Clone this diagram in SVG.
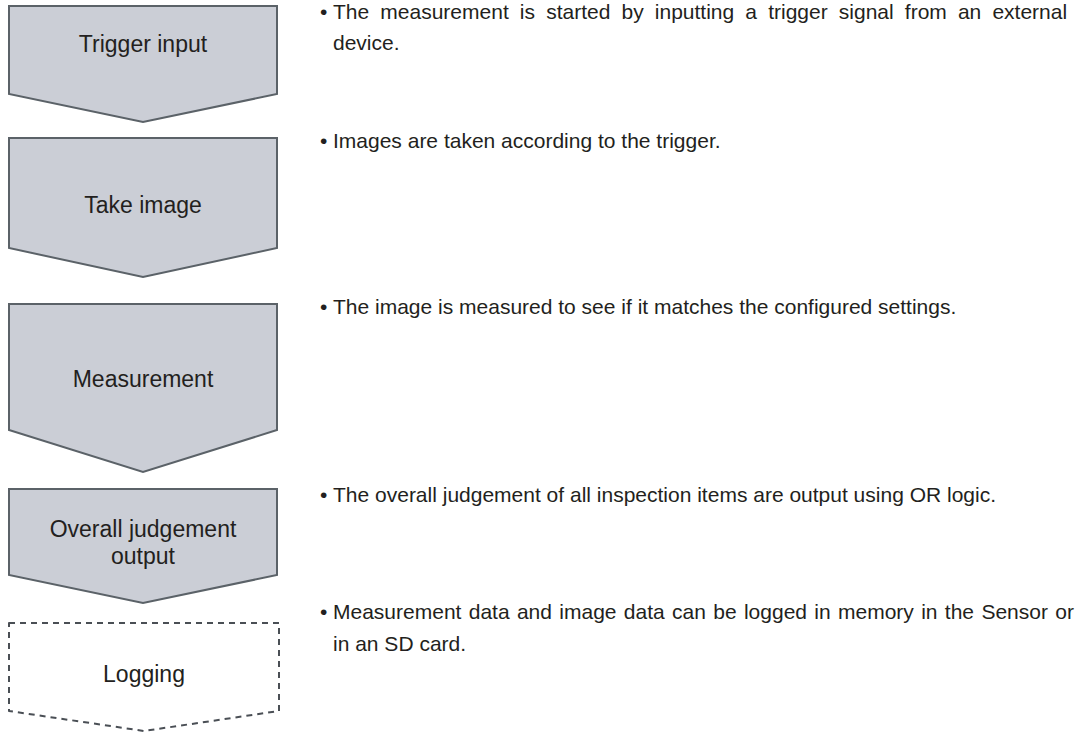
<svg xmlns="http://www.w3.org/2000/svg" width="1081" height="741" viewBox="0 0 1081 741">
<style>
.step{fill:#cbced6;stroke:#5b6268;stroke-width:2;stroke-linejoin:miter}
.opt{fill:#ffffff;stroke:#4a4f55;stroke-width:2;stroke-dasharray:6 5;stroke-linejoin:round}
.lbl{font-family:"Liberation Sans",Arial,sans-serif;font-size:23px;fill:#231f20;text-anchor:middle}
.desc{font-family:"Liberation Sans",Arial,sans-serif;font-size:21px;fill:#231f20}
</style>
<rect width="1081" height="741" fill="#ffffff"/>
<g id="connectors"></g>
<g id="n1">
<path class="step" d="M9,6 H277 V94 L143,122 L9,94 Z"/>
<text class="lbl" x="143" y="52">Trigger input</text>
</g>
<g id="n2">
<path class="step" d="M9,138 H277 V248 L143,277 L9,248 Z"/>
<text class="lbl" x="143" y="213">Take image</text>
</g>
<g id="n3">
<path class="step" d="M9,304 H277 V430 L143,472 L9,430 Z"/>
<text class="lbl" x="143" y="387">Measurement</text>
</g>
<g id="n4">
<path class="step" d="M9,489 H277 V575 L143,603 L9,575 Z"/>
<text class="lbl" x="143" y="537">Overall judgement</text>
<text class="lbl" x="143" y="564">output</text>
</g>
<g id="n5">
<path class="opt" d="M9,623 H279 V711 L144,731 L9,711 Z"/>
<text class="lbl" x="144" y="682">Logging</text>
</g>
<g id="notes">
<text class="desc" x="320" y="19">•</text>
<text class="desc" x="333" y="19" word-spacing="5.3">The measurement is started by inputting a trigger signal from an external</text>
<text class="desc" x="333" y="50">device.</text>
<text class="desc" x="320" y="148">•</text>
<text class="desc" x="333" y="148">Images are taken according to the trigger.</text>
<text class="desc" x="320" y="314">•</text>
<text class="desc" x="333" y="314">The image is measured to see if it matches the configured settings.</text>
<text class="desc" x="320" y="502">•</text>
<text class="desc" x="333" y="502">The overall judgement of all inspection items are output using OR logic.</text>
<text class="desc" x="320" y="619">•</text>
<text class="desc" x="333" y="619" word-spacing="1.5">Measurement data and image data can be logged in memory in the Sensor or</text>
<text class="desc" x="333" y="651">in an SD card.</text>
</g>
</svg>
